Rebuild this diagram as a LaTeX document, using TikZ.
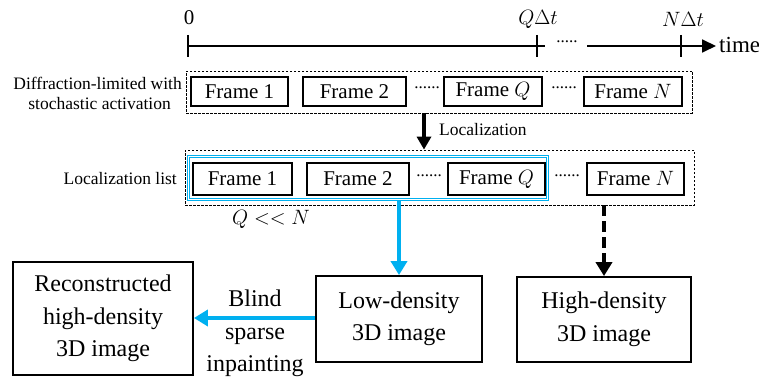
\documentclass[tikz,border=0pt]{standalone}
\usepackage{fontspec}
\setmainfont{Liberation Serif}
\usetikzlibrary{arrows.meta}
\definecolor{skyb}{RGB}{0,176,240}
\begin{document}
\begin{tikzpicture}[x=1pt,y=-1pt,
  framebox/.style={draw,line width=1.8pt,inner sep=0pt,minimum height=29pt,font=\fontsize{21}{24}\selectfont},
  framebtwo/.style={framebox,minimum height=32pt},
  dashbox/.style={draw,line width=0.8pt,dash pattern=on 2.5pt off 1.5pt},
  bigbox/.style={draw,line width=1.8pt,inner sep=0pt,align=center,font=\fontsize{24}{32.5}\selectfont},
  lbl/.style={inner sep=0pt,font=\fontsize{17.5}{20}\selectfont},
  dotsl/.style={inner sep=0pt,font=\fontsize{17}{20}\selectfont},
  tick/.style={line width=1.6pt},
  axis/.style={line width=1.8pt},
  ttip/.style={-{Triangle[length=14pt,width=13pt]}}
]
\useasboundingbox (0,0) rectangle (759,377);

% time axis
\coordinate (t0) at (188,46);
\coordinate (tq) at (537,46);
\coordinate (tqe) at (545,46);
\coordinate (tr) at (587,46);
\coordinate (tn) at (681,46);
\coordinate (tend) at (716,46);
\draw[axis] (t0) -- (tqe);
\draw[axis,ttip] (tr) -- (tend);
\draw[tick] (188,35) -- (188,57);
\draw[tick] (537,35) -- (537,57);
\draw[tick] (681,35) -- (681,57);
\node[dotsl] (tdots) at (567,42) {.....};
\node[inner sep=0pt,font=\fontsize{21}{24}\selectfont] (lz) at (189,18) {0};
\node[inner sep=0pt,font=\fontsize{21}{24}\selectfont] (lq) at (538,19) {$Q\Delta t$};
\node[inner sep=0pt,font=\fontsize{21}{24}\selectfont] (ln) at (683,19) {$N\Delta t$};
\node[inner sep=0pt,anchor=west,font=\fontsize{23}{26}\selectfont] (ltime) at (719,45) {time};

% row 1
\node[dashbox,minimum width=506pt,minimum height=42pt,inner sep=0pt] (row1) at (439,92) {};
\node[framebox,minimum width=97pt] (a1) at (239.5,91.5) {Frame 1};
\node[framebox,minimum width=103pt] (a2) at (354.5,91.5) {Frame 2};
\node[framebox,minimum width=98pt] (aq) at (493,91.5) {Frame $Q$};
\node[framebox,minimum width=98pt] (an) at (633,91.5) {Frame $N$};
\node[dotsl] (ad1) at (427,88) {......};
\node[dotsl] (ad2) at (564,88) {......};
\node[lbl,anchor=east,align=right] (rl1) at (182,93) {Diffraction-limited with\\stochastic activation\hspace*{11pt}};

% row 2
\node[dashbox,minimum width=509pt,minimum height=55pt,inner sep=0pt] (row2) at (439.5,177.5) {};
\node[draw=skyb,line width=1.2pt,double=white,double distance=0.7pt,minimum width=359pt,minimum height=43pt,inner sep=0pt] (bluebox) at (368,178) {};
\node[framebtwo,minimum width=99pt] (b1) at (242.5,179) {Frame 1};
\node[framebtwo,minimum width=102pt] (b2) at (358,179) {Frame 2};
\node[framebtwo,minimum width=97pt] (bq) at (496.5,179) {Frame $Q$};
\node[framebtwo,minimum width=97pt] (bn) at (635.5,179) {Frame $N$};
\node[dotsl] (bd1) at (429,176) {......};
\node[dotsl] (bd2) at (567,176) {......};
\node[lbl,anchor=east] (rl2) at (177,179) {Localization list};
\node[inner sep=0pt,font=\fontsize{21}{24}\selectfont] (qn) at (271,219) {$Q<<N$};

% localization arrow
\coordinate (la) at (424,113);
\draw[line width=3.5pt,-{Triangle[length=13pt,width=14pt]}] (la) -- (la |- row2.north);
\node[lbl,anchor=west] (loc) at (439,130) {Localization};

% bottom boxes
\node[bigbox,minimum width=180pt,minimum height=113pt] (rec) at (103,318.5) {Reconstructed\\high-density\\3D image};
\node[bigbox,minimum width=166pt,minimum height=86pt] (low) at (399,319) {Low-density\\3D image};
\node[bigbox,minimum width=174pt,minimum height=85pt] (high) at (604,319.5) {High-density\\3D image};

% arrows
\draw[skyb,line width=4pt,-{Triangle[length=14pt,width=16pt]}] (low.north |- bluebox.south) -- (low.north);
\draw[line width=4.5pt,dash pattern=on 11pt off 5pt,-{Triangle[length=14pt,width=16pt]}] (high.north |- row2.south) -- (high.north);
\draw[skyb,line width=4.5pt,-{Triangle[length=14pt,width=16pt]}] (low.west |- 0,318) -- (rec.east |- 0,318);
\node[inner sep=0pt,font=\fontsize{24}{28}\selectfont] (bl) at (255,298) {Blind};
\node[inner sep=0pt,font=\fontsize{24}{28}\selectfont] (sp) at (255,336) {sparse};
\node[inner sep=0pt,font=\fontsize{24}{28}\selectfont] (ip) at (255,366) {inpainting};
\end{tikzpicture}
\end{document}
